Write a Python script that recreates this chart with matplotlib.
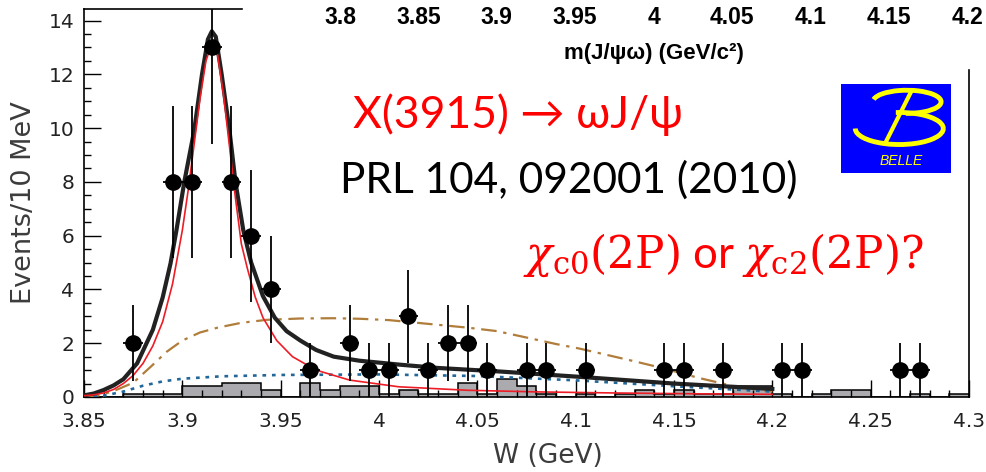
import numpy as np
import matplotlib.pyplot as plt
from matplotlib.patches import Rectangle, Arc
from matplotlib.ticker import MultipleLocator

plt.rcParams['mathtext.fontset'] = 'dejavuserif'

# gamma gamma -> omega J/psi candidates per 10 MeV bin
w_pts = [3.875, 3.895, 3.905, 3.915, 3.925, 3.935, 3.945, 3.965, 3.985, 3.995,
         4.005, 4.015, 4.025, 4.035, 4.045, 4.055, 4.075, 4.085, 4.105, 4.145,
         4.155, 4.175, 4.205, 4.215, 4.265, 4.275]
n_pts = [2, 8, 8, 13, 8, 6, 4, 1, 2, 1,
         1, 3, 1, 2, 2, 1, 1, 1, 1, 1,
         1, 1, 1, 1, 1, 1]

# scaled J/psi mass sideband, 45 bins from 3.85 to 4.30
sb_height = [0.0, 0.0, 0.13, 0.13, 0.13, 0.4, 0.4, 0.53, 0.53, 0.27,
             0.0, 0.53, 0.27, 0.4, 0.4, 0.13, 0.27, 0.13, 0.13, 0.53,
             0.13, 0.66, 0.4, 0.13, 0.0, 0.13, 0.0, 0.13, 0.27, 0.13,
             0.27, 0.13, 0.13, 0.4, 0.4, 0.13, 0.0, 0.13, 0.27, 0.27,
             0.0, 0.0, 0.13, 0.0, 0.13]

# total fit
tot_w = [3.850, 3.855, 3.860, 3.865, 3.870, 3.877, 3.885, 3.890, 3.894, 3.897,
         3.901, 3.906, 3.910, 3.913, 3.915, 3.917, 3.920, 3.924, 3.927, 3.931,
         3.935, 3.941, 3.947, 3.953, 3.960, 3.968, 3.977, 3.990, 4.011, 4.030,
         4.061, 4.100, 4.150, 4.200]
tot_y = [0.06, 0.13, 0.26, 0.43, 0.66, 1.25, 2.5, 3.7, 4.97, 6.2,
         8.0, 9.9, 12.0, 13.3, 13.6, 13.4, 12.0, 9.9, 8.0, 6.2,
         5.0, 3.75, 2.95, 2.45, 2.1, 1.75, 1.5, 1.35, 1.2, 1.08,
         0.95, 0.76, 0.5, 0.3]

# X(3915) signal component
sig_w = [3.850, 3.855, 3.860, 3.865, 3.870, 3.875, 3.880, 3.885, 3.890, 3.895,
         3.900, 3.903, 3.906, 3.909, 3.912, 3.915, 3.918, 3.921, 3.924, 3.927,
         3.930, 3.933, 3.937, 3.941, 3.948, 3.956, 3.968, 3.985, 4.010, 4.045,
         4.080, 4.120, 4.160, 4.200]
sig_y = [0.05, 0.08, 0.15, 0.28, 0.5, 0.8, 1.25, 1.9, 2.8, 4.2,
         6.2, 7.7, 9.4, 11.1, 12.5, 13.15, 12.7, 11.2, 9.3, 7.4,
         5.7, 4.8, 3.73, 2.95, 2.1, 1.5, 1.0, 0.63, 0.38, 0.25,
         0.19, 0.15, 0.12, 0.1]

# non-resonant background
bkg_w = [3.850, 3.860, 3.870, 3.880, 3.890, 3.900, 3.920, 3.950, 4.000, 4.050,
         4.100, 4.150, 4.200]
bkg_y = [0.0, 0.05, 0.2, 0.42, 0.58, 0.68, 0.77, 0.82, 0.84, 0.78,
         0.62, 0.4, 0.2]

# alternative background shape
alt_w = [3.850, 3.858, 3.866, 3.875, 3.884, 3.892, 3.900, 3.909, 3.918, 3.930,
         3.943, 3.960, 3.977, 3.990, 4.005, 4.025, 4.045, 4.060, 4.077, 4.090,
         4.102, 4.115, 4.128, 4.145, 4.162, 4.181, 4.200]
alt_y = [0.02, 0.06, 0.25, 0.53, 1.13, 1.68, 2.1, 2.4, 2.58, 2.76,
         2.87, 2.92, 2.93, 2.91, 2.86, 2.72, 2.58, 2.45, 2.18, 1.97,
         1.8, 1.58, 1.36, 1.06, 0.72, 0.39, 0.2]

x_ticks = [3.85, 3.9, 3.95, 4.0, 4.05, 4.1, 4.15, 4.2, 4.25, 4.3]
x_labels = ['3.85', '3.9', '3.95', '4', '4.05', '4.1', '4.15', '4.2', '4.25', '4.3']
y_ticks = [0, 2, 4, 6, 8, 10, 12, 14]
top_ticks = [3.8, 3.85, 3.9, 3.95, 4.0, 4.05, 4.1, 4.15, 4.2]
top_labels = ['3.8', '3.85', '3.9', '3.95', '4', '4.05', '4.1', '4.15', '4.2']

W, H = 986, 472
fig = plt.figure(figsize=(W / 100, H / 100), dpi=100)

ax = fig.add_axes([84 / W, 75 / H, 885 / W, 388 / H])
edges = np.linspace(3.85, 4.30, len(sb_height) + 1)
ax.stairs(sb_height, edges, fill=True, color='#ababaf', zorder=1)
ax.stairs(sb_height, edges, color='black', lw=1.1, zorder=2)
ax.plot(alt_w, alt_y, color='#b07d3a', lw=1.6, dashes=(7, 3, 1.5, 3), zorder=3)
ax.plot(bkg_w, bkg_y, color='#22679a', lw=1.9, dashes=(1.4, 2.2), zorder=3)
ax.plot(tot_w, tot_y, color='#222222', lw=3.0, zorder=4)
ax.plot(sig_w, sig_y, color='#ee1c25', lw=1.2, zorder=5)
ax.errorbar(w_pts, n_pts, yerr=np.sqrt(n_pts), xerr=0.005, fmt='o', color='black',
            ms=11, elinewidth=1.3, capsize=0, zorder=6)

ax.set_xlim(3.85, 4.3)
ax.set_ylim(0, 14.43)
ax.set_xticks(x_ticks, labels=x_labels)
ax.set_yticks(y_ticks)
ax.xaxis.set_minor_locator(MultipleLocator(0.01))
ax.yaxis.set_minor_locator(MultipleLocator(0.5))
ax.tick_params(which='both', direction='in', top=False, right=False, width=1,
               labelsize=14.5, labelcolor='#222222')
ax.tick_params(which='major', length=12)
ax.tick_params(which='minor', length=5)
ax.tick_params(axis='x', pad=11)
ax.tick_params(axis='y', pad=7)
for s in ax.spines.values():
    s.set_linewidth(1.2)
ax.set_xlabel('W (GeV)', fontsize=19, color='#3c3c3c')
ax.xaxis.set_label_coords((548 - 84) / 885, -0.118)
ax.set_ylabel('Events/10 MeV', fontsize=19.5, color='#3c3c3c')
ax.yaxis.set_label_coords(-0.053, 0.5)

# white band over the upper frame, carrying the m(J/psi omega) scale
fig.add_artist(Rectangle((243 / W, 1 - 68 / H), 1, 1, transform=fig.transFigure,
                         color='white', zorder=2))
narrow = ['Liberation Sans Narrow', 'Liberation Sans', 'DejaVu Sans']
tax = fig.add_axes([340 / W, 1 - 5 / H, 627 / W, 0.0005], zorder=3)
tax.set_xlim(3.8, 4.2)
tax.set_xticks(top_ticks, labels=top_labels, fontsize=16.5, fontweight='bold',
               family=narrow)
tax.set_yticks([])
tax.tick_params(length=0, pad=1)
for s in tax.spines.values():
    s.set_visible(False)
tax.patch.set_alpha(0)
tax.set_xlabel('m(J/ψω) (GeV/c²)', fontsize=16, fontweight='bold', labelpad=10,
               family=narrow)

# Belle logo
lax = fig.add_axes([841 / W, 1 - 173 / H, 110 / W, 89 / H], zorder=3)
lax.set_facecolor('#0000ff')
lax.set_xlim(0, 1)
lax.set_ylim(0, 1)
lax.set_xticks([])
lax.set_yticks([])
for s in lax.spines.values():
    s.set_visible(False)
yel = '#ffff00'
lax.add_patch(Arc((0.6, 0.8), 0.62, 0.26, theta1=265, theta2=535, color=yel, lw=3.5))
lax.add_patch(Arc((0.53, 0.5), 0.8, 0.36, theta1=180, theta2=460, color=yel, lw=3.5))
lax.plot([0.64, 0.40], [0.92, 0.33], color=yel, lw=3, solid_capstyle='butt')
lax.text(0.55, 0.14, 'BELLE', color=yel, fontsize=10, style='italic', ha='center',
         va='center', family=narrow)

sans = ['Lato', 'Noto Sans', 'DejaVu Sans']
fig.text(353 / W, 1 - 115 / H, 'X(3915) → ωJ/ψ', color='#ff0000', fontsize=32,
         family=sans, va='center', ha='left', zorder=4)
fig.text(340 / W, 1 - 180 / H, 'PRL 104, 092001 (2010)', color='black', fontsize=30.5,
         family=sans, va='center', ha='left', zorder=4)
fig.text(523 / W, 1 - 255 / H,
         r'$\chi_{\mathrm{c0}}(2\mathrm{P})$ or $\chi_{\mathrm{c2}}(2\mathrm{P})?$',
         color='#ff0000', fontsize=31.5, family=sans, va='center', ha='left', zorder=4)

fig.savefig('out.png', dpi=100)
